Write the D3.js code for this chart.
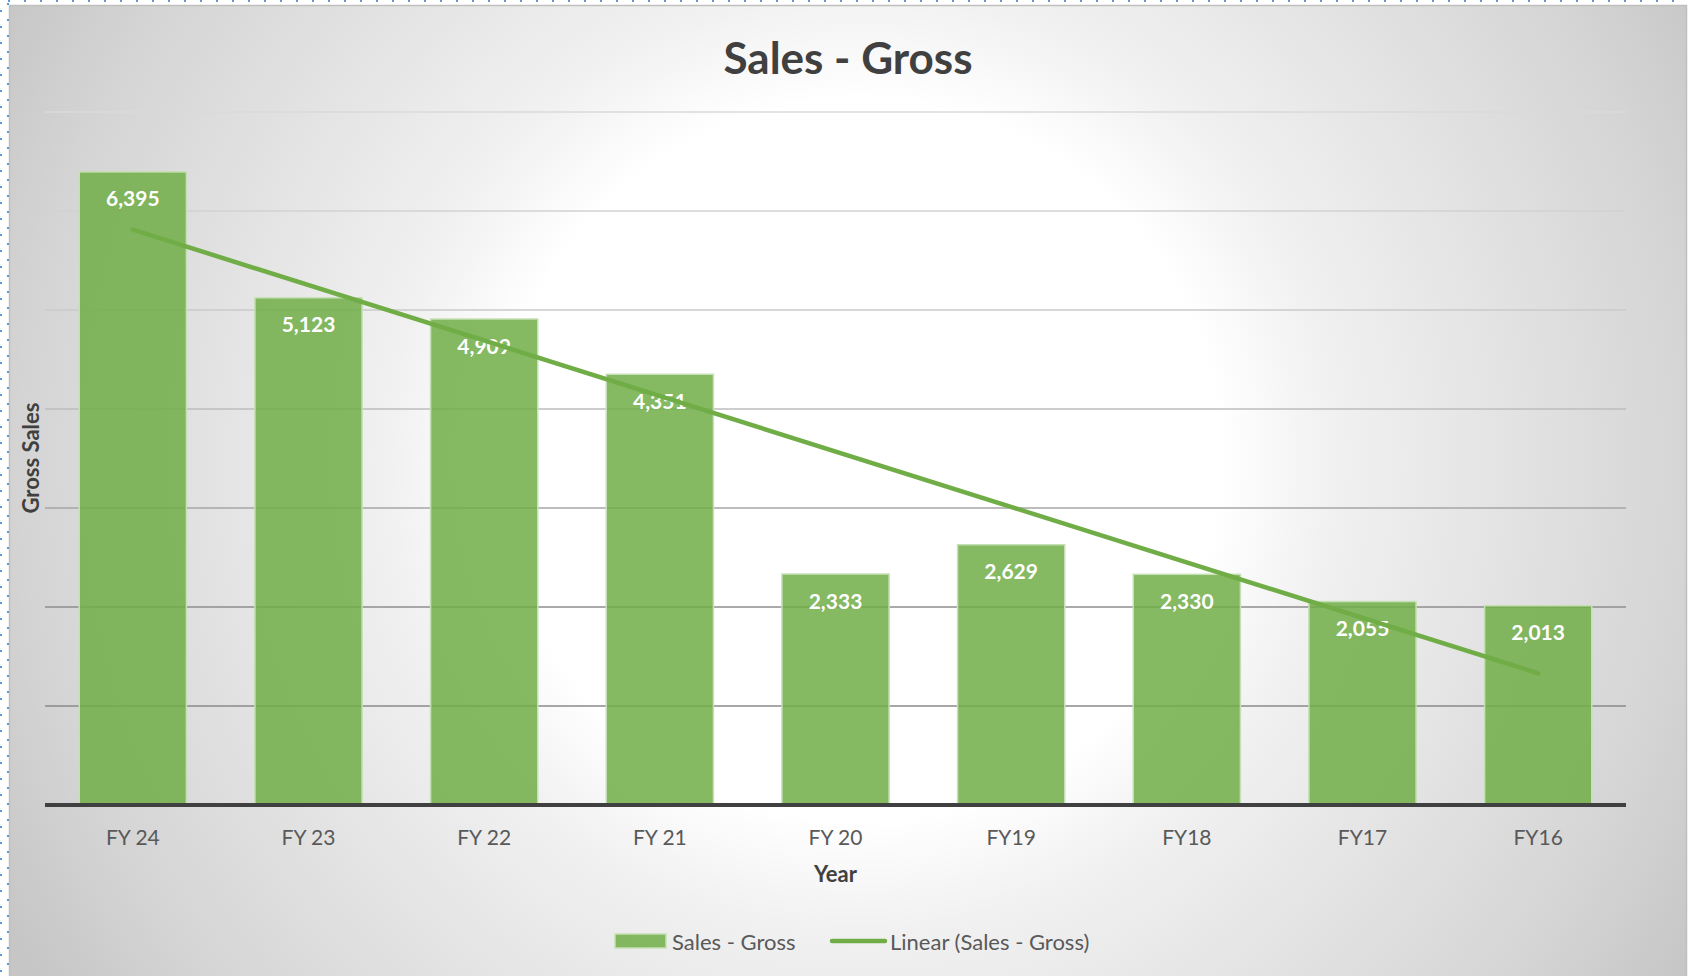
<!DOCTYPE html>
<html>
<head>
<meta charset="utf-8">
<script src="https://cdn.jsdelivr.net/npm/d3@7"></script>
<style>
  body { margin: 0; background: #fff; }
  svg { display: block; }
</style>
</head>
<body>
<div id="chart"></div>
<script>
const categories = ["FY 24", "FY 23", "FY 22", "FY 21", "FY 20", "FY19", "FY18", "FY17", "FY16"];
const sales = [6395, 5123, 4909, 4351, 2333, 2629, 2330, 2055, 2013];
const gridTicks = [1000, 2000, 3000, 4000, 5000, 6000, 7000];

const W = 1688, H = 976;
const plot = { left: 45, right: 1626, top: 112, bottom: 805 };
const font = "Lato, 'Open Sans', sans-serif";
const green = "#70ad47";

const svg = d3.select("#chart").append("svg")
  .attr("width", W)
  .attr("height", H);

// chart area background
const defs = svg.append("defs");
const bg = defs.append("radialGradient")
  .attr("id", "bg")
  .attr("gradientUnits", "userSpaceOnUse")
  .attr("cx", 860).attr("cy", 460).attr("r", 1000);
[[0, "#ffffff"], [0.36, "#ffffff"], [0.47, "#f1f1f1"], [0.84, "#d4d4d4"], [0.97, "#c6c6c6"]]
  .forEach(([o, c]) => bg.append("stop").attr("offset", o).attr("stop-color", c));

svg.append("rect")
  .attr("x", 9.5).attr("y", 5.5)
  .attr("width", 1677).attr("height", 1000)
  .attr("fill", "url(#bg)")
  .attr("stroke", "#bfbfbf")
  .attr("stroke-width", 1.5);

// selection dots along the frame
svg.append("line").attr("x1", 8).attr("x2", W).attr("y1", 1).attr("y2", 1)
  .attr("stroke", "#5b9bd5").attr("stroke-width", 2).attr("stroke-dasharray", "2,14");
svg.append("line").attr("x1", 1).attr("x2", 1).attr("y1", 10).attr("y2", H)
  .attr("stroke", "#5b9bd5").attr("stroke-width", 2).attr("stroke-dasharray", "2,14");
svg.append("line").attr("x1", 8).attr("x2", 8).attr("y1", 3).attr("y2", H)
  .attr("stroke", "#5b9bd5").attr("stroke-width", 2).attr("stroke-dasharray", "2,14");

const x = d3.scaleBand()
  .domain(categories)
  .range([plot.left, plot.right])
  .paddingInner(0.39)
  .paddingOuter(0.195);

const y = d3.scaleLinear()
  .domain([0, 7000])
  .range([plot.bottom, plot.top]);

const gridColor = d3.scaleLinear()
  .domain([1000, 2000, 3000, 4000, 5000, 6000, 7000])
  .range(["#8a8a8a", "#8e8e8e", "#a6a6a6", "#bcbcbc", "#cacaca", "#d2d2d2", "#dadada"]);

// gridlines
svg.append("g").selectAll("line")
  .data(gridTicks)
  .enter()
  .append("line")
  .attr("x1", plot.left)
  .attr("x2", plot.right)
  .attr("y1", d => y(d))
  .attr("y2", d => y(d))
  .attr("stroke", d => gridColor(d))
  .attr("stroke-width", 1.4);

// bars
svg.append("g").selectAll("rect")
  .data(sales)
  .enter()
  .append("rect")
  .attr("x", (d, i) => x(categories[i]))
  .attr("y", d => y(d))
  .attr("width", x.bandwidth())
  .attr("height", d => y(0) - y(d))
  .attr("fill", green)
  .attr("fill-opacity", 0.85)
  .attr("stroke", "#c5e0b4")
  .attr("stroke-width", 1.5);

// baseline
svg.append("line")
  .attr("x1", plot.left).attr("x2", plot.right)
  .attr("y1", y(0)).attr("y2", y(0))
  .attr("stroke", "#404040")
  .attr("stroke-width", 4);

// data labels
svg.append("g").selectAll("text")
  .data(sales)
  .enter()
  .append("text")
  .attr("x", (d, i) => x(categories[i]) + x.bandwidth() / 2)
  .attr("y", d => y(d) + 26)
  .attr("text-anchor", "middle")
  .attr("dominant-baseline", "central")
  .attr("font-family", font)
  .attr("font-weight", "bold")
  .attr("font-size", "21px")
  .attr("fill", "#fff")
  .text(d => d3.format(",")(d));

// linear trendline (least squares over category index)
const idx = sales.map((d, i) => i + 1);
const mx = d3.mean(idx), my = d3.mean(sales);
const slope = d3.sum(idx, (v, i) => (v - mx) * (sales[i] - my)) / d3.sum(idx, v => (v - mx) ** 2);
const icpt = my - slope * mx;
const trend = [idx[0], idx[idx.length - 1]].map(v => ({
  cat: categories[v - 1],
  val: icpt + slope * v
}));

svg.append("path")
  .datum(trend)
  .attr("fill", "none")
  .attr("stroke", green)
  .attr("stroke-width", 4.5)
  .attr("stroke-linecap", "round")
  .attr("d", d3.line()
    .x(d => x(d.cat) + x.bandwidth() / 2)
    .y(d => y(d.val)));

// x tick labels
svg.append("g").selectAll("text")
  .data(categories)
  .enter()
  .append("text")
  .attr("x", d => x(d) + x.bandwidth() / 2)
  .attr("y", 836)
  .attr("text-anchor", "middle")
  .attr("dominant-baseline", "central")
  .attr("font-family", font)
  .attr("font-size", "21px")
  .attr("fill", "#595959")
  .text(d => d);

// title
svg.append("text")
  .attr("x", 848)
  .attr("y", 57)
  .attr("text-anchor", "middle")
  .attr("dominant-baseline", "central")
  .attr("font-family", font)
  .attr("font-weight", "bold")
  .attr("font-size", "44px")
  .attr("fill", "#404040")
  .text("Sales - Gross");

// axis titles
svg.append("text")
  .attr("x", (plot.left + plot.right) / 2)
  .attr("y", 873)
  .attr("text-anchor", "middle")
  .attr("dominant-baseline", "central")
  .attr("font-family", font)
  .attr("font-weight", "bold")
  .attr("font-size", "22px")
  .attr("fill", "#404040")
  .text("Year");

svg.append("text")
  .attr("transform", "translate(30,458) rotate(-90)")
  .attr("text-anchor", "middle")
  .attr("dominant-baseline", "central")
  .attr("font-family", font)
  .attr("font-weight", "bold")
  .attr("font-size", "22px")
  .attr("fill", "#404040")
  .text("Gross Sales");

// legend
const legend = svg.append("g").attr("transform", "translate(615,941)");

legend.append("rect")
  .attr("x", 0).attr("y", -7)
  .attr("width", 51).attr("height", 14)
  .attr("fill", green)
  .attr("fill-opacity", 0.85)
  .attr("stroke", "#c5e0b4")
  .attr("stroke-width", 1.5);

legend.append("text")
  .attr("x", 57)
  .attr("y", 0)
  .attr("dominant-baseline", "central")
  .attr("font-family", font)
  .attr("font-size", "22px")
  .attr("fill", "#595959")
  .text("Sales - Gross");

legend.append("line")
  .attr("x1", 217).attr("x2", 270)
  .attr("y1", 0).attr("y2", 0)
  .attr("stroke", green)
  .attr("stroke-width", 4.5)
  .attr("stroke-linecap", "round");

legend.append("text")
  .attr("x", 275)
  .attr("y", 0)
  .attr("dominant-baseline", "central")
  .attr("font-family", font)
  .attr("font-size", "22px")
  .attr("fill", "#595959")
  .text("Linear (Sales - Gross)");
</script>
</body>
</html>
